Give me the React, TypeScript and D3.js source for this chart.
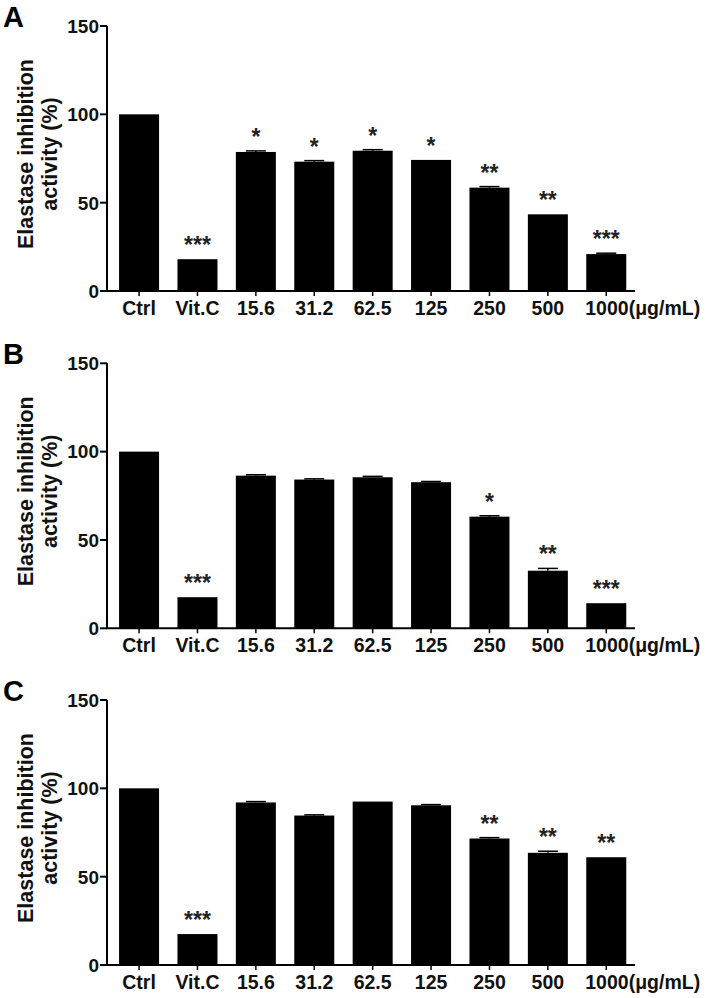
import React from 'react';
import * as d3 from 'd3';

const categories = ['Ctrl', 'Vit.C', '15.6', '31.2', '62.5', '125', '250', '500', '1000'];
const unitSuffix = '(μg/mL)';
const yTicks = [0, 50, 100, 150];

const valuesA = [100, 18.0, 78.7, 73.2, 79.4, 74.2, 58.5, 43.4, 20.9];
const errorsA = [0, 0, 0.6, 0.6, 0.6, 0, 0.6, 0, 0.5];
const sigA = ['', '***', '*', '*', '*', '*', '**', '**', '***'];

const valuesB = [100, 17.6, 86.4, 84.2, 85.5, 82.7, 63.2, 32.6, 14.2];
const errorsB = [0, 0, 0.5, 0.4, 0.5, 0.4, 0.5, 1.3, 0];
const sigB = ['', '***', '', '', '', '', '*', '**', '***'];

const valuesC = [100, 17.5, 92.0, 84.6, 92.5, 90.4, 71.6, 63.5, 61.0];
const errorsC = [0, 0, 0.5, 0.4, 0, 0.4, 0.5, 0.9, 0];
const sigC = ['', '***', '', '', '', '', '**', '**', '**'];

const panelLetters = ['A', 'B', 'C'];
const yTitle1 = 'Elastase inhibition';
const yTitle2 = 'activity (%)';

const FONT = '"Liberation Sans", Arial, Helvetica, sans-serif';

const AXIS_X = 107;
const AXIS_END = 635;
const PLOT_H = 265;

const x = d3
  .scaleBand<string>()
  .domain(categories)
  .range([AXIS_X, AXIS_END])
  .paddingInner(0.315)
  .paddingOuter(0.178)
  .align(0.58);

function Panel({ letter, bottom, values, errors, sig }: { letter: string; bottom: number; values: number[]; errors: number[]; sig: string[] }) {
  const top = bottom - PLOT_H;
  const y = d3.scaleLinear().domain([0, 150]).range([bottom, top]);
  const bw = x.bandwidth();
  const midY = (top + bottom) / 2 - 4.5;
  return (
    <g>
      <text x={3} y={top + 1} fontFamily={FONT} fontWeight="bold" fontSize={29} fill="#000">{letter}</text>
      <text transform={`translate(33,${midY}) rotate(-90)`} textAnchor="middle" fontFamily={FONT} fontWeight="bold" fontSize={21.5} fill="#111">{yTitle1}</text>
      <text transform={`translate(57,${midY}) rotate(-90)`} textAnchor="middle" fontFamily={FONT} fontWeight="bold" fontSize={21.5} fill="#111">{yTitle2}</text>
      {values.map((v, i) => {
        const c = categories[i];
        const x0 = x(c)!;
        const cx = x0 + bw / 2;
        const e = errors[i];
        const topV = y(v + e);
        return (
          <g key={c}>
            <rect x={x0} y={y(v)} width={bw} height={bottom - y(v)} fill="#000" />
            {e > 0 && (
              <g stroke="#000" strokeWidth={1.5}>
                <line x1={cx} x2={cx} y1={y(v)} y2={topV} />
                <line x1={cx - bw / 4} x2={cx + bw / 4} y1={topV} y2={topV} />
              </g>
            )}
            {sig[i] && (
              <text x={cx} y={topV - 6} textAnchor="middle" fontFamily={FONT} fontWeight="bold" fontSize={23} fill="#222">{sig[i]}</text>
            )}
          </g>
        );
      })}
      {/* y axis */}
      <line x1={AXIS_X} x2={AXIS_X} y1={top} y2={bottom} stroke="#000" strokeWidth={2} />
      {yTicks.map((t) => (
        <g key={t}>
          <line x1={AXIS_X - 7} x2={AXIS_X} y1={y(t)} y2={y(t)} stroke="#000" strokeWidth={2} />
          <text x={AXIS_X - 8} y={y(t)} dy="0.36em" textAnchor="end" fontFamily={FONT} fontWeight="bold" fontSize={19} fill="#111">{t}</text>
        </g>
      ))}
      {/* x axis */}
      <line x1={AXIS_X - 1} x2={AXIS_END} y1={bottom} y2={bottom} stroke="#000" strokeWidth={2} />
      {categories.map((c, i) => {
        const cx = x(c)! + bw / 2;
        const last = i === categories.length - 1;
        return (
          <g key={c}>
            <line x1={cx} x2={cx} y1={bottom} y2={bottom + 5} stroke="#000" strokeWidth={1.5} />
            {last ? (
              <text x={cx - 21} y={bottom + 24} textAnchor="start" fontFamily={FONT} fontWeight="bold" fontSize={19.5} fill="#111">{c + unitSuffix}</text>
            ) : (
              <text x={cx} y={bottom + 24} textAnchor="middle" fontFamily={FONT} fontWeight="bold" fontSize={19.5} fill="#111">{c}</text>
            )}
          </g>
        );
      })}
    </g>
  );
}

export default function App() {
  return (
    <svg width={706} height={998} viewBox="0 0 706 998" style={{ position: 'absolute', left: 0, top: 0, background: '#fff' }}>
      <rect width={706} height={998} fill="#fff" />
      <Panel letter={panelLetters[0]} bottom={291} values={valuesA} errors={errorsA} sig={sigA} />
      <Panel letter={panelLetters[1]} bottom={628.3} values={valuesB} errors={errorsB} sig={sigB} />
      <Panel letter={panelLetters[2]} bottom={965} values={valuesC} errors={errorsC} sig={sigC} />
    </svg>
  );
}
